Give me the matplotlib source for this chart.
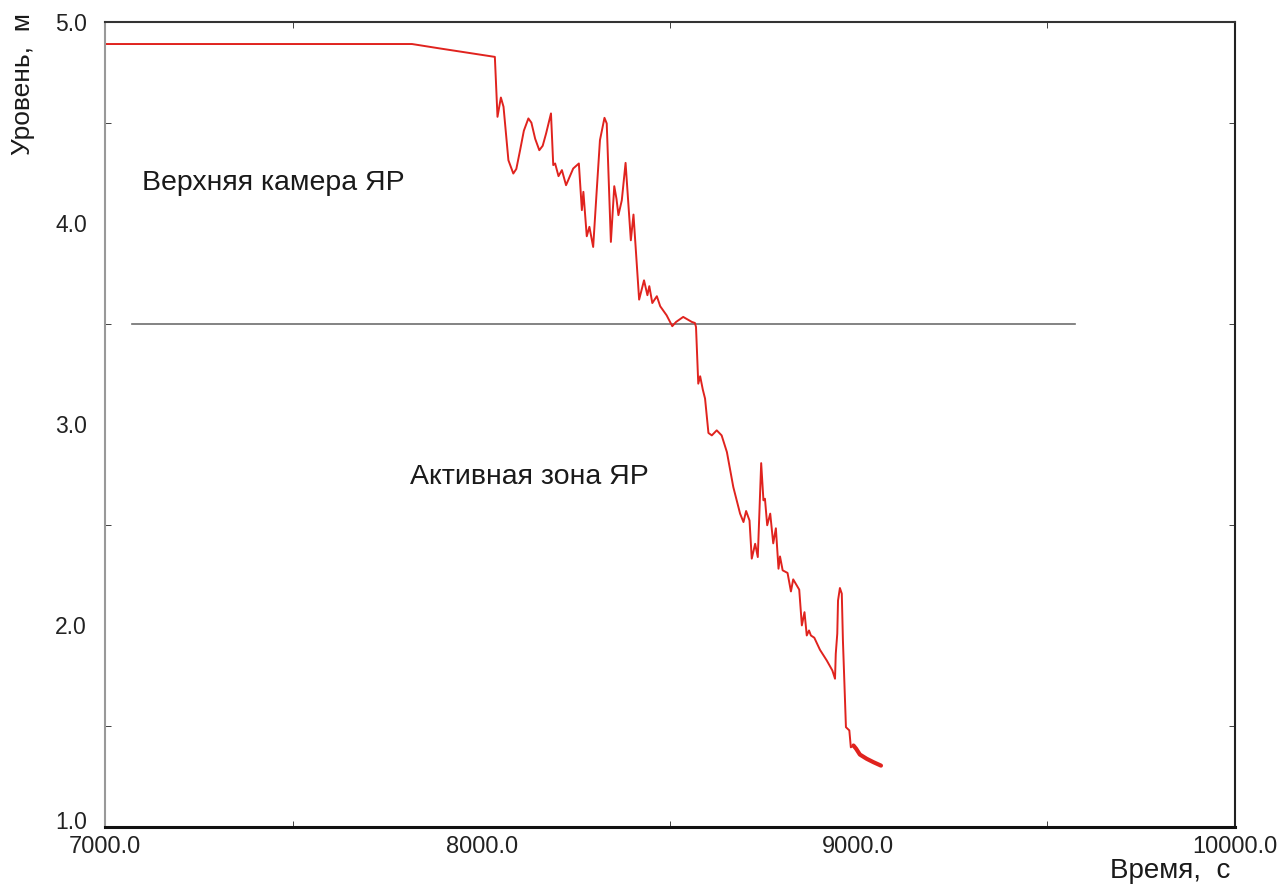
import matplotlib
matplotlib.use('Agg')
import matplotlib.pyplot as plt
import matplotlib.transforms as mtransforms
from matplotlib.ticker import MultipleLocator, FormatStrFormatter

plt.rcParams['font.family'] = ['Liberation Sans', 'DejaVu Sans']

# level of coolant vs time
time_s = [7000, 7815, 7889, 8035, 8042, 8051, 8058, 8071, 8084, 8092, 8102, 8112, 8124,
          8132, 8142, 8153, 8162,
          8171, 8184, 8190, 8195, 8204, 8213, 8224, 8243, 8258, 8266, 8270, 8279,
          8286, 8296, 8305, 8314, 8326, 8332, 8343, 8352, 8358, 8363, 8372, 8382, 8396, 8403,
          8418, 8431, 8440, 8445, 8453, 8465, 8474, 8491, 8506, 8516, 8535, 8558,
          8566, 8569, 8575, 8580, 8587, 8593, 8602, 8611, 8624, 8637, 8651, 8668,
          8686, 8695, 8702, 8711, 8717, 8726, 8733, 8742, 8748, 8752, 8758, 8766,
          8774, 8781, 8788, 8792, 8799, 8812, 8821, 8827, 8843, 8850, 8857, 8863,
          8869, 8874, 8883, 8898, 8916, 8931, 8938, 8940, 8944, 8946, 8951, 8956,
          8959, 8967, 8976, 8980, 8987, 8994, 9004, 9022, 9040, 9060]
level_m = [4.891, 4.891, 4.869, 4.827, 4.529, 4.625, 4.579, 4.313, 4.247, 4.270, 4.363, 4.460, 4.521,
           4.500, 4.420, 4.363, 4.385,
           4.446, 4.546, 4.289, 4.297, 4.234, 4.264, 4.189, 4.272, 4.297, 4.065, 4.156, 3.935,
           3.982, 3.882, 4.150, 4.413, 4.524, 4.496, 3.907, 4.184, 4.120, 4.040, 4.114, 4.300, 3.915, 4.043,
           3.620, 3.716, 3.642, 3.687, 3.603, 3.637, 3.587, 3.542, 3.488, 3.509, 3.534, 3.509,
           3.504, 3.484, 3.202, 3.239, 3.173, 3.128, 2.957, 2.945, 2.970, 2.945, 2.862, 2.688,
           2.556, 2.514, 2.569, 2.522, 2.332, 2.406, 2.340, 2.807, 2.622, 2.630, 2.498, 2.556,
           2.408, 2.483, 2.282, 2.343, 2.274, 2.261, 2.169, 2.229, 2.178, 2.000, 2.066, 1.950,
           1.975, 1.950, 1.939, 1.879, 1.826, 1.776, 1.735, 1.859, 1.959, 2.124, 2.186, 2.158,
           1.925, 1.494, 1.478, 1.394, 1.403, 1.387, 1.358, 1.337, 1.320, 1.303]

# boundary between upper chamber and core
core_top = 3.5
core_line_x = [7072, 9575]

fig = plt.figure(figsize=(12.88, 8.84), dpi=100)
ax = fig.add_axes([0.0815, 0.065, 0.8774, 0.910])

ax.plot(core_line_x, [core_top, core_top], color='#6e6e6e', lw=1.2)
ax.plot(time_s, level_m, color='#e0231e', lw=1.4)
# dense oscillation at the tail looks like a thick line
ax.plot(time_s[-6:], level_m[-6:], color='#e0231e', lw=3.0, solid_capstyle='round')

ax.set_xlim(7000, 10000)
ax.set_ylim(1.0, 5.0)
ax.xaxis.set_major_locator(MultipleLocator(1000))
ax.xaxis.set_minor_locator(MultipleLocator(500))
ax.yaxis.set_major_locator(MultipleLocator(1.0))
ax.yaxis.set_minor_locator(MultipleLocator(0.5))
ax.xaxis.set_major_formatter(FormatStrFormatter('%.1f'))
ax.yaxis.set_major_formatter(FormatStrFormatter('%.1f'))
ax.tick_params(which='both', direction='in', top=True, right=True, colors='#222222')
ax.tick_params(axis='x', labelsize=17)
ax.tick_params(axis='y', labelsize=16.5)
ax.tick_params(which='major', length=0)
ax.tick_params(axis='x', which='major', pad=7)
ax.tick_params(axis='y', which='major', pad=13)
ax.tick_params(which='minor', length=4)

ax.spines['left'].set_color('#999999')
ax.spines['left'].set_linewidth(1.5)
ax.spines['bottom'].set_color('#111111')
ax.spines['bottom'].set_linewidth(2.2)
ax.spines['top'].set_color('#333333')
ax.spines['top'].set_linewidth(1.5)
ax.spines['right'].set_color('#222222')
ax.spines['right'].set_linewidth(1.5)

ax.text(7098, 4.2, 'Верхняя камера ЯР', fontsize=20.5, color='#1a1a1a', va='center')
ax.text(7810, 2.74, 'Активная зона ЯР', fontsize=20.5, color='#1a1a1a', va='center')

fig.text(0.955, 0.0, 'Время,  с', fontsize=20, color='#1a1a1a', ha='right', va='bottom')
fig.text(0.018, 0.985, 'Уровень,  м', fontsize=19, color='#1a1a1a', rotation=90,
         ha='center', va='top')

# lift the bottom "1.0" a touch so it doesn't sit on "7000.0"
fig.canvas.draw()
lift = mtransforms.ScaledTranslation(0, 5 / 72, fig.dpi_scale_trans)
for lab in ax.get_yticklabels():
    if lab.get_text() == '1.0':
        lab.set_transform(lab.get_transform() + lift)

fig.savefig('out.png', dpi=100)
